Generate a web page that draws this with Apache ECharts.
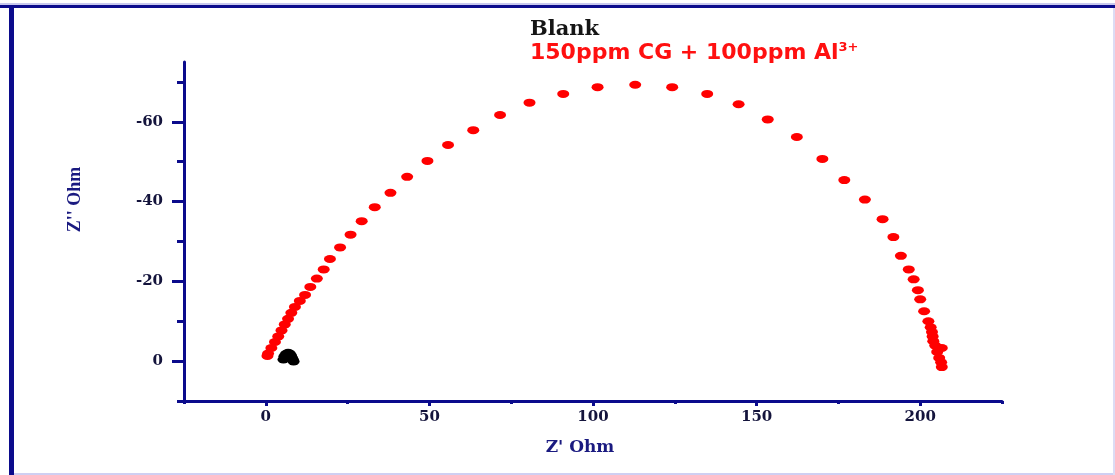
<!DOCTYPE html>
<html>
<head>
<meta charset="utf-8">
<script src="https://cdn.jsdelivr.net/npm/echarts@6/dist/echarts.min.js"></script>
<style>
html,body{margin:0;padding:0;background:#fff;}
#chart{width:1115px;height:475px;}
</style>
</head>
<body>
<div id="chart"></div>
<script>
// ---- data ----
const seriesNames = ['Blank', '150ppm CG + 100ppm Al³⁺'];
const blankData = [
  [5.4, -0.4], [5.7, -1.2], [6.2, -1.8], [6.8, -2.1], [7.3, -1.9],
  [7.7, -1.4], [8.0, -0.8], [8.3, -0.3], [8.5, 0.1]
];
const inhibData = [
  [0.5, -1.3], [0.7, -1.9], [1.7, -3.3], [2.8, -4.8], [3.8, -6.2], [4.8, -7.7],
  [5.8, -9.2], [6.8, -10.6], [7.8, -12.1], [8.9, -13.6], [10.4, -15.1], [12.0, -16.6],
  [13.6, -18.6], [15.6, -20.7], [17.7, -23.0], [19.6, -25.6], [22.7, -28.5], [25.9, -31.7],
  [29.3, -35.1], [33.3, -38.6], [38.1, -42.2], [43.2, -46.2], [49.4, -50.2], [55.7, -54.2],
  [63.4, -57.9], [71.6, -61.7], [80.6, -64.8], [90.9, -67.0], [101.4, -68.7], [112.9, -69.3],
  [124.2, -68.7], [134.9, -67.0], [144.5, -64.4], [153.4, -60.6], [162.3, -56.2], [170.1, -50.7],
  [176.8, -45.4], [183.1, -40.5], [188.5, -35.6], [191.8, -31.1], [194.1, -26.4], [196.5, -23.0],
  [198.0, -20.5], [199.3, -17.8], [200.0, -15.5], [201.2, -12.5], [202.5, -10.0], [203.2, -8.5],
  [203.6, -7.3], [203.8, -6.2], [204.0, -5.0], [204.6, -3.9], [206.6, -3.3], [205.2, -2.3],
  [205.8, -0.8], [206.4, 0.3], [206.6, 1.5]
];
const xRange = [-25, 225];
const yRange = [-75, 10];
const xMajorTicks = [0, 50, 100, 150, 200];
const xMinorTicks = [-25, 25, 75, 125, 175, 225];
const yMajorTicks = [-60, -40, -20, 0];
const yMinorTicks = [-70, -50, -30, -10, 10];
const xTitle = "Z' Ohm";
const yTitle = "Z'' Ohm";

// ---- chart ----
const NAVY = '#0b0b8c';
const LABEL = '#14143c';
const chart = echarts.init(document.getElementById('chart'), null, {renderer: 'canvas'});

function baseAxis(extra) {
  return Object.assign({
    type: 'value',
    splitLine: {show: false},
    axisLine: {onZero: false, show: false, lineStyle: {color: NAVY, width: 3}},
    axisTick: {show: false},
    axisLabel: {show: false}
  }, extra);
}

const option = {
  backgroundColor: '#ffffff',
  animation: false,
  grid: {left: 184, right: 113, top: 62, bottom: 74, containLabel: false},
  legend: {
    orient: 'vertical',
    left: 520,
    top: 14,
    itemGap: 1,
    itemWidth: 0,
    itemHeight: 0,
    itemStyle: {opacity: 0},
    selectedMode: false,
    data: seriesNames,
    formatter: function (name) {
      if (name === seriesNames[0]) return '{b|' + name + '}';
      return '{a|150ppm CG + 100ppm Al}{s|3+}';
    },
    textStyle: {
      rich: {
        b: {fontFamily: 'DejaVu Serif', fontWeight: 'bold', fontSize: 21, color: '#151515', lineHeight: 23},
        a: {fontFamily: 'DejaVu Sans', fontWeight: 'bold', fontSize: 22, color: '#ff1010', lineHeight: 25},
        s: {fontFamily: 'DejaVu Sans', fontWeight: 'bold', fontSize: 13, color: '#ff1010', lineHeight: 15, verticalAlign: 'top'}
      }
    }
  },
  xAxis: [
    baseAxis({
      min: xRange[0], max: xRange[1], position: 'bottom',
      axisLine: {show: true, onZero: false, lineStyle: {color: NAVY, width: 3}},
      axisTick: {show: true, length: 5, customValues: xMajorTicks, lineStyle: {color: NAVY, width: 3}},
      axisLabel: {show: true, customValues: xMajorTicks, margin: 9, color: LABEL,
        fontFamily: 'DejaVu Serif', fontWeight: 'bold', fontSize: 15},
      name: xTitle, nameLocation: 'middle', nameGap: 38,
      nameTextStyle: {fontFamily: 'DejaVu Serif', fontWeight: 'bold', fontSize: 17, color: '#1a1a80', padding: [0, 26, 0, 0]}
    }),
    baseAxis({
      min: xRange[0], max: xRange[1], position: 'bottom',
      axisTick: {show: true, length: 3, customValues: xMinorTicks, lineStyle: {color: NAVY, width: 3}}
    })
  ],
  yAxis: [
    baseAxis({
      min: yRange[0], max: yRange[1], inverse: true, position: 'left',
      axisLine: {show: true, onZero: false, lineStyle: {color: NAVY, width: 3}},
      axisTick: {show: true, length: 12, customValues: yMajorTicks, lineStyle: {color: NAVY, width: 3}},
      axisLabel: {show: true, customValues: yMajorTicks, margin: 21, color: LABEL,
        fontFamily: 'DejaVu Serif', fontWeight: 'bold', fontSize: 15},
      name: yTitle, nameLocation: 'middle', nameGap: 100, nameRotate: 90,
      nameTextStyle: {fontFamily: 'Liberation Serif', fontWeight: 'bold', fontSize: 18, color: '#1a1a80', padding: [0, 0, 0, 64]}
    }),
    baseAxis({
      min: yRange[0], max: yRange[1], inverse: true, position: 'left',
      axisTick: {show: true, length: 7, customValues: yMinorTicks, lineStyle: {color: NAVY, width: 3}}
    })
  ],
  series: [
    {
      name: seriesNames[0], type: 'scatter', xAxisIndex: 0, yAxisIndex: 0,
      data: blankData, symbol: 'circle', symbolSize: [12, 8],
      itemStyle: {color: '#000000', opacity: 1}, z: 3
    },
    {
      name: seriesNames[1], type: 'scatter', xAxisIndex: 0, yAxisIndex: 0,
      data: inhibData, symbol: 'circle', symbolSize: [12, 8],
      itemStyle: {color: '#ff0000', opacity: 1}, z: 2
    }
  ],
  graphic: [
    {type: 'rect', shape: {x: 0, y: 3, width: 1115, height: 2}, style: {fill: '#c8c8ee'}, silent: true},
    {type: 'rect', shape: {x: 0, y: 5, width: 1115, height: 3}, style: {fill: NAVY}, silent: true},
    {type: 'rect', shape: {x: 9, y: 5, width: 5, height: 470}, style: {fill: NAVY}, silent: true},
    {type: 'rect', shape: {x: 14, y: 473, width: 1101, height: 2}, style: {fill: '#cfcff2'}, silent: true},
    {type: 'rect', shape: {x: 1113, y: 8, width: 2, height: 467}, style: {fill: '#dcdcf4'}, silent: true}
  ]
};
chart.setOption(option);
</script>
</body>
</html>
